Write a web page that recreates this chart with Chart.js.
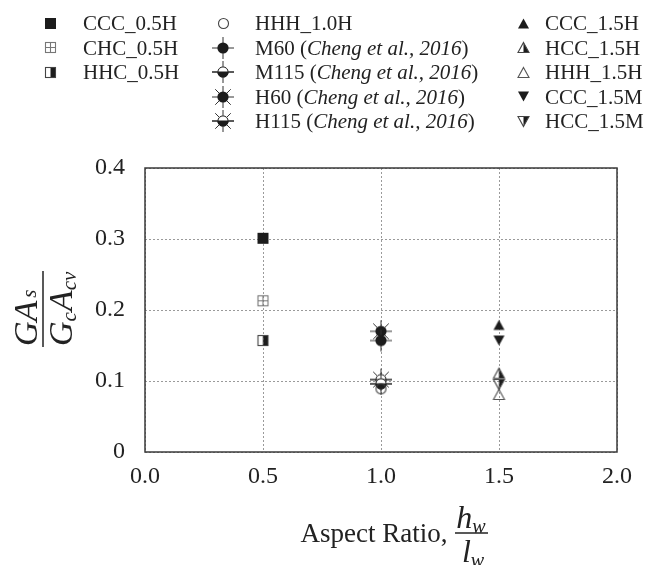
<!DOCTYPE html>
<html>
<head>
<meta charset="utf-8">
<script src="https://cdn.jsdelivr.net/npm/chart.js@4"></script>
<style>
  html, body { margin: 0; padding: 0; background: #fff; }
  #wrap { position: relative; width: 655px; height: 565px; }
  #chart { position: absolute; left: 0; top: 0; }
  .lg { position: absolute; height: 24px; line-height: 24px; font-family: "Liberation Serif", "Times New Roman", serif; font-size: 21px; color: #222; white-space: nowrap; }
  .lgm { position: absolute; }
</style>
</head>
<body>
<div id="wrap">
  <canvas id="chart" width="655" height="565"></canvas>
</div>
<script>
// ---------------- DATA ----------------
const seriesLabels = ['CCC_0.5H', 'CHC_0.5H', 'HHC_0.5H', 'HHH_1.0H', 'M60', 'M115', 'H60', 'H115',
                      'CCC_1.5H', 'HCC_1.5H', 'HHH_1.5H', 'CCC_1.5M', 'HCC_1.5M'];
const seriesSources = ['', '', '', '', 'Cheng et al., 2016', 'Cheng et al., 2016', 'Cheng et al., 2016', 'Cheng et al., 2016',
                       '', '', '', '', ''];
const aspectRatios = [0.5, 0.5, 0.5, 1.0, 1.0, 1.0, 1.0, 1.0, 1.5, 1.5, 1.5, 1.5, 1.5];
const stiffnessRatios = [0.301, 0.213, 0.157, 0.089, 0.157, 0.096, 0.170, 0.102, 0.179, 0.111, 0.081, 0.157, 0.095];
const xTickValues = [0.0, 0.5, 1.0, 1.5, 2.0];
const yTickValues = [0, 0.1, 0.2, 0.3, 0.4];

// ---------------- STYLES ----------------
const markerKinds = ['sqFill', 'sqCross', 'sqHalf', 'circOpen', 'circCross', 'circHalfCross', 'circStar', 'circHalfStar',
                     'triUp', 'triUpHalf', 'triUpOpen', 'triDown', 'triDownHalf'];
const legendColumn = [0, 0, 0, 1, 1, 1, 1, 1, 2, 2, 2, 2, 2];
const INK = '#1c1c1c';

function makeMarker(kind) {
  const spiky = kind.startsWith('circ') && kind !== 'circOpen';
  const S = spiky ? 26 : 15;
  const c = document.createElement('canvas');
  c.width = S; c.height = S;
  const g = c.getContext('2d');
  const m = S / 2;
  g.lineWidth = 1.1;
  g.strokeStyle = INK; g.fillStyle = INK;
  const r = 5.6;
  if (kind === 'sqFill') {
    g.fillRect(m - 5.5, m - 5.5, 11, 11);
  } else if (kind === 'sqCross') {
    g.strokeStyle = '#777';
    g.strokeRect(m - 5, m - 5, 10, 10);
    g.beginPath(); g.moveTo(m, m - 5); g.lineTo(m, m + 5); g.moveTo(m - 5, m); g.lineTo(m + 5, m); g.stroke();
  } else if (kind === 'sqHalf') {
    g.fillRect(m, m - 5.5, 5.5, 11);
    g.strokeStyle = '#444';
    g.strokeRect(m - 5, m - 5, 10, 10);
  } else if (kind.startsWith('circ')) {
    if (spiky) {
      g.lineWidth = 1;
      g.strokeStyle = '#333';
      const L = 11;
      const angs = kind.endsWith('Star') ? [0, Math.PI / 4, Math.PI / 2, 3 * Math.PI / 4] : [0, Math.PI / 2];
      g.beginPath();
      for (const a of angs) {
        g.moveTo(m - L * Math.cos(a), m - L * Math.sin(a));
        g.lineTo(m + L * Math.cos(a), m + L * Math.sin(a));
      }
      g.stroke();
    }
    if (kind === 'circOpen') {
      g.strokeStyle = '#444';
      g.beginPath(); g.arc(m, m, 5, 0, Math.PI * 2); g.stroke();
    } else if (kind.includes('Half')) {
      g.fillStyle = '#fff';
      g.beginPath(); g.arc(m, m, r, 0, Math.PI * 2); g.fill();
      g.fillStyle = INK;
      g.beginPath(); g.arc(m, m, r, 0, Math.PI); g.closePath(); g.fill();
      g.strokeStyle = INK;
      g.beginPath(); g.arc(m, m, r - 0.5, 0, Math.PI * 2); g.stroke();
      g.beginPath(); g.moveTo(m - 11, m); g.lineTo(m + 11, m); g.stroke();
    } else {
      g.beginPath(); g.arc(m, m, r, 0, Math.PI * 2); g.fill();
    }
  } else if (kind.startsWith('tri')) {
    const up = kind.startsWith('triUp');
    const h = 10, w = 11;
    const yA = up ? m - h / 2 : m + h / 2;
    const yB = up ? m + h / 2 : m - h / 2;
    const path = () => { g.beginPath(); g.moveTo(m, yA); g.lineTo(m + w / 2, yB); g.lineTo(m - w / 2, yB); g.closePath(); };
    if (kind === 'triUp' || kind === 'triDown') {
      path(); g.fill();
    } else if (kind.endsWith('Half')) {
      g.beginPath(); g.moveTo(m, yA); g.lineTo(m + w / 2, yB); g.lineTo(m, yB); g.closePath(); g.fill();
      g.strokeStyle = '#444'; path(); g.stroke();
    } else {
      g.strokeStyle = '#555'; path(); g.stroke();
    }
  }
  return c;
}

const markers = markerKinds.map(makeMarker);

// ---------------- CHART ----------------
const datasets = seriesLabels.map((lab, i) => ({
  label: lab,
  data: [{ x: aspectRatios[i], y: stiffnessRatios[i] }],
  pointStyle: markers[i],
  pointRadius: 6,
  pointHoverRadius: 6,
  showLine: false
}));

function drawRun(ctx, parts, x, y, measureOnly) {
  let cx = x;
  for (const p of parts) {
    ctx.font = (p.italic ? 'italic ' : '') + p.size + 'px "Liberation Serif", "Times New Roman", serif';
    if (!measureOnly) ctx.fillText(p.t, cx, y + (p.dy || 0));
    cx += ctx.measureText(p.t).width + (p.gap || 0);
  }
  return cx - x;
}

const decorPlugin = {
  id: 'decor',
  beforeDatasetsDraw(chart) {
    const { ctx, chartArea: a } = chart;
    ctx.save();
    ctx.strokeStyle = '#3a3a3a';
    ctx.lineWidth = 1.5;
    ctx.strokeRect(a.left, a.top, a.right - a.left, a.bottom - a.top);
    ctx.restore();
  },
  afterDraw(chart) {
    const { ctx } = chart;
    ctx.save();
    ctx.fillStyle = '#222';
    ctx.strokeStyle = '#222';
    ctx.textBaseline = 'alphabetic';
    ctx.textAlign = 'left';
    // Y title (rotated fraction)
    ctx.save();
    ctx.translate(43, 309);
    ctx.rotate(-Math.PI / 2);
    const num = [{ t: 'G', size: 34, italic: true }, { t: 'A', size: 34, italic: true, gap: 3 }, { t: 's', size: 21, italic: true, dy: -1 }];
    const den = [{ t: 'G', size: 34, italic: true }, { t: 'c', size: 21, italic: true, dy: 4, gap: 1 }, { t: 'A', size: 34, italic: true }, { t: 'cv', size: 21, italic: true, dy: 4 }];
    drawRun(ctx, num, -37, -6);
    drawRun(ctx, den, -37, 29);
    ctx.lineWidth = 1.5;
    ctx.beginPath(); ctx.moveTo(-38, 0); ctx.lineTo(38, 0); ctx.stroke();
    ctx.restore();
    // X title
    drawRun(ctx, [{ t: 'Aspect Ratio,', size: 27 }], 300.5, 541.5);
    const hn = [{ t: 'h', size: 32, italic: true }, { t: 'w', size: 20, italic: true, dy: 5 }];
    const ld = [{ t: 'l', size: 32, italic: true }, { t: 'w', size: 20, italic: true, dy: 5 }];
    const w1 = drawRun(ctx, hn, 0, 0, true);
    const w2 = drawRun(ctx, ld, 0, 0, true);
    drawRun(ctx, hn, 471 - w1 / 2, 528);
    drawRun(ctx, ld, 471 - w2 / 2 + 2, 562);
    ctx.lineWidth = 1.5;
    ctx.beginPath(); ctx.moveTo(455, 533); ctx.lineTo(488, 533); ctx.stroke();
    ctx.restore();
  }
};

const tickFont = { family: '"Liberation Serif", "Times New Roman", serif', size: 24 };

new Chart(document.getElementById('chart'), {
  type: 'scatter',
  data: { datasets },
  options: {
    responsive: false,
    devicePixelRatio: 1,
    animation: false,
    layout: { padding: { top: 168, right: 38, left: 0, bottom: 0 } },
    plugins: { legend: { display: false }, tooltip: { enabled: false } },
    scales: {
      x: {
        type: 'linear', min: 0, max: 2,
        afterBuildTicks: s => { s.ticks = xTickValues.map(v => ({ value: v })); },
        afterFit: s => { s.height = 113; },
        ticks: { font: tickFont, color: '#222', padding: 10, callback: v => Number(v).toFixed(1), maxRotation: 0 },
        grid: { color: '#9a9a9a', lineWidth: 1, drawTicks: false },
        border: { display: false, dash: [2, 2] }
      },
      y: {
        type: 'linear', min: 0, max: 0.4,
        afterBuildTicks: s => { s.ticks = yTickValues.map(v => ({ value: v })); },
        afterFit: s => { s.width = 145; },
        ticks: { font: tickFont, color: '#222', padding: 20, callback: v => (v === 0 ? '0' : Number(v).toFixed(1)) },
        grid: { color: '#9a9a9a', lineWidth: 1, drawTicks: false },
        border: { display: false, dash: [2, 2] }
      }
    }
  },
  plugins: [decorPlugin]
});

// ---------------- LEGEND (HTML) ----------------
const wrap = document.getElementById('wrap');
const colMarkerX = [50, 223, 523];
const colTextX = [83, 255, 545];
const rowCenters = [23, 47.5, 72, 96.5, 121];
const rowCount = [0, 0, 0];
seriesLabels.forEach((lab, i) => {
  const col = legendColumn[i];
  const row = rowCount[col]++;
  const cy = rowCenters[row];
  const mk = makeMarker(markerKinds[i]);
  mk.className = 'lgm';
  mk.style.left = (colMarkerX[col] - mk.width / 2) + 'px';
  mk.style.top = (cy - mk.height / 2) + 'px';
  wrap.appendChild(mk);
  const d = document.createElement('div');
  d.className = 'lg';
  d.style.left = colTextX[col] + 'px';
  d.style.top = (cy - 12) + 'px';
  d.appendChild(document.createTextNode(lab));
  if (seriesSources[i]) {
    d.appendChild(document.createTextNode(' ('));
    const it = document.createElement('i');
    it.textContent = seriesSources[i];
    d.appendChild(it);
    d.appendChild(document.createTextNode(')'));
  }
  wrap.appendChild(d);
});
</script>
</body>
</html>
